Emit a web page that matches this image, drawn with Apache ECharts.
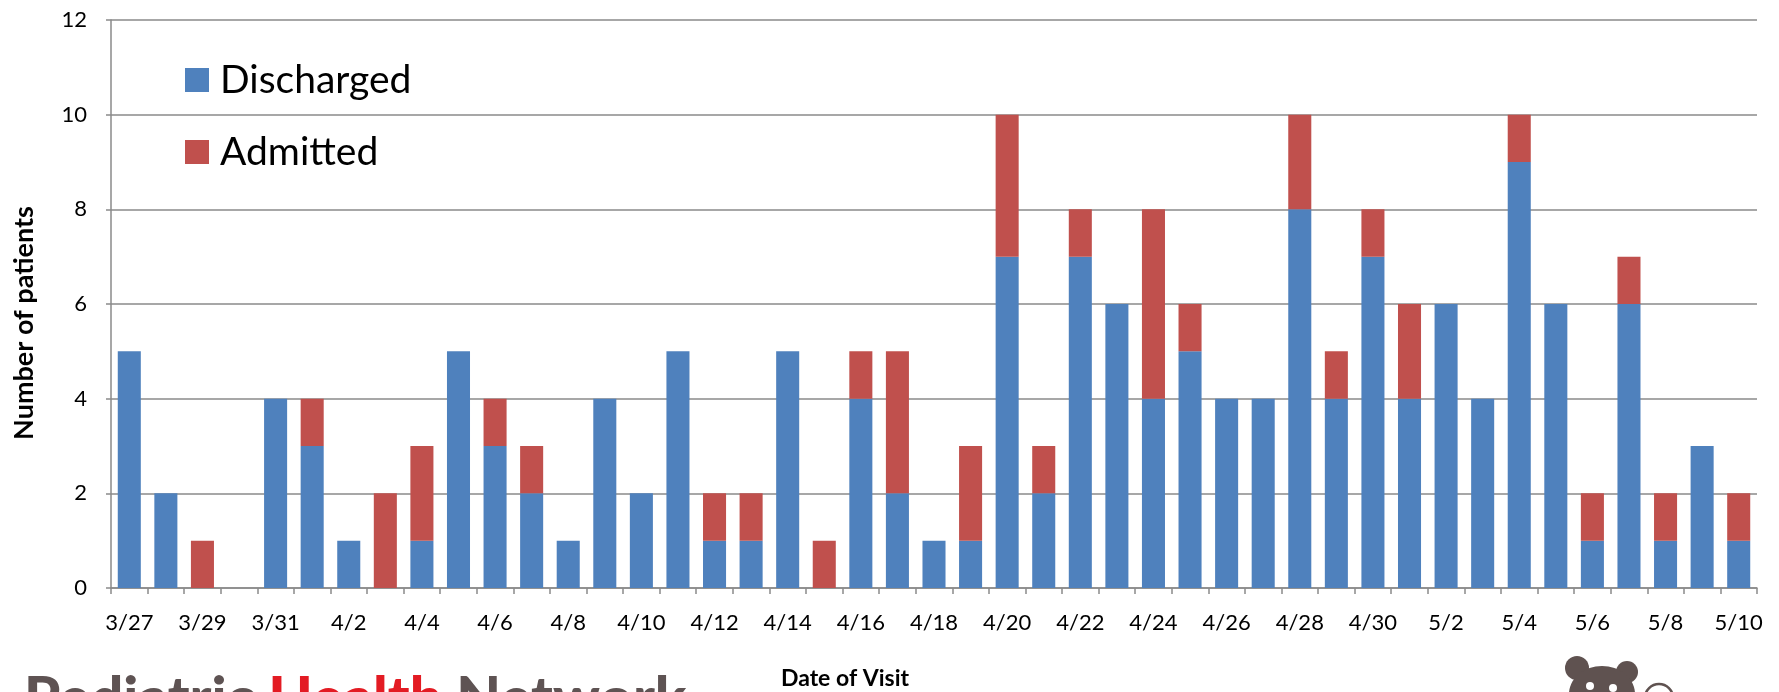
<!DOCTYPE html>
<html>
<head>
<meta charset="utf-8">
<script src="https://cdn.jsdelivr.net/npm/echarts@6/dist/echarts.min.js"></script>
<style>
  html, body { margin: 0; padding: 0; background: #ffffff; }
  #chart { width: 1779px; height: 692px; }
</style>
</head>
<body>
<div id="chart"></div>
<script>
// Daily visits, 3/27 through 5/10
const dates = [
  '3/27','3/28','3/29','3/30','3/31',
  '4/1','4/2','4/3','4/4','4/5','4/6','4/7','4/8','4/9','4/10',
  '4/11','4/12','4/13','4/14','4/15','4/16','4/17','4/18','4/19','4/20',
  '4/21','4/22','4/23','4/24','4/25','4/26','4/27','4/28','4/29','4/30',
  '5/1','5/2','5/3','5/4','5/5','5/6','5/7','5/8','5/9','5/10'
];
const discharged = [
  5, 2, 0, 0, 4,
  3, 1, 0, 1, 5, 3, 2, 1, 4, 2,
  5, 1, 1, 5, 0, 4, 2, 1, 1, 7,
  2, 7, 6, 4, 5, 4, 4, 8, 4, 7,
  4, 6, 4, 9, 6, 1, 6, 1, 3, 1
];
const admitted = [
  0, 0, 1, 0, 0,
  1, 0, 2, 2, 0, 1, 1, 0, 0, 0,
  0, 1, 1, 0, 1, 1, 3, 0, 2, 3,
  1, 1, 0, 4, 1, 0, 0, 2, 1, 1,
  2, 0, 0, 1, 0, 1, 1, 1, 0, 1
];
const seriesNames = ['Discharged', 'Admitted'];
const axisTitles = { y: 'Number of patients', x: 'Date of Visit' };

const FONT = 'Lato, "Open Sans", "Noto Sans", sans-serif';
const GRID_GRAY = '#8a8a8a';
const BEAR = '#5f5250';

const chart = echarts.init(document.getElementById('chart'), null, { renderer: 'canvas' });

chart.setOption({
  animation: false,
  backgroundColor: '#ffffff',
  grid: { left: 111, right: 22, top: 20, bottom: 104, containLabel: false },
  legend: {
    data: seriesNames,
    orient: 'vertical',
    left: 180,
    top: 53,
    icon: 'rect',
    itemWidth: 24,
    itemHeight: 24,
    itemGap: 28,
    textStyle: {
      fontFamily: FONT,
      fontSize: 39,
      lineHeight: 44,
      color: '#000000',
      padding: [0, 0, 0, 6]
    }
  },
  xAxis: {
    type: 'category',
    data: dates,
    boundaryGap: true,
    axisLine: { show: true, lineStyle: { color: GRID_GRAY, width: 1.5 } },
    axisTick: { show: true, interval: 0, length: 6, lineStyle: { color: GRID_GRAY, width: 1.5 } },
    axisLabel: {
      interval: 1,
      margin: 24,
      fontFamily: FONT,
      fontSize: 22,
      color: '#000000'
    },
    splitLine: { show: false }
  },
  yAxis: {
    type: 'value',
    min: 0,
    max: 12,
    interval: 2,
    axisLine: { show: true, lineStyle: { color: GRID_GRAY, width: 1.5 } },
    axisTick: { show: true, length: 5, lineStyle: { color: GRID_GRAY, width: 1.5 } },
    axisLabel: {
      margin: 24,
      fontFamily: FONT,
      fontSize: 22,
      color: '#000000'
    },
    splitLine: { show: true, lineStyle: { color: GRID_GRAY, width: 1.5 } }
  },
  series: [
    {
      name: seriesNames[0],
      type: 'bar',
      stack: 'visits',
      data: discharged,
      barWidth: '63%',
      itemStyle: { color: '#4f81bd' }
    },
    {
      name: seriesNames[1],
      type: 'bar',
      stack: 'visits',
      data: admitted,
      barWidth: '63%',
      itemStyle: { color: '#c0504d' }
    }
  ],
  graphic: [
    {
      type: 'text',
      x: 24,
      y: 323,
      rotation: Math.PI / 2,
      style: {
        text: axisTitles.y,
        fontFamily: FONT,
        fontWeight: 'bold',
        fontSize: 27,
        fill: '#000000',
        align: 'center',
        verticalAlign: 'middle'
      }
    },
    {
      type: 'text',
      x: 845,
      y: 679,
      style: {
        text: axisTitles.x,
        fontFamily: FONT,
        fontWeight: 'bold',
        fontSize: 23,
        fill: '#000000',
        align: 'center',
        verticalAlign: 'middle'
      }
    },
    // organisation wordmark along the bottom edge
    {
      type: 'text',
      x: 24,
      y: 699,
      style: {
        text: '{g|Pediatric} {r|Health} {g|Network}',
        fontFamily: FONT,
        fontWeight: 900,
        fontSize: 58,
        align: 'left',
        verticalAlign: 'middle',
        rich: {
          g: { fill: '#5e5353', fontFamily: FONT, fontWeight: 900, fontSize: 58 },
          r: { fill: '#e31b23', fontFamily: FONT, fontWeight: 900, fontSize: 58 }
        }
      }
    },
    // bear mascot in the bottom-right corner
    {
      type: 'group',
      children: [
        { type: 'circle', shape: { cx: 1577, cy: 668, r: 12 }, style: { fill: BEAR } },
        { type: 'circle', shape: { cx: 1627, cy: 672, r: 11 }, style: { fill: BEAR } },
        { type: 'ellipse', shape: { cx: 1602, cy: 694, rx: 33, ry: 28 }, style: { fill: BEAR } },
        { type: 'circle', shape: { cx: 1590, cy: 686, r: 4 }, style: { fill: '#ffffff' } },
        { type: 'circle', shape: { cx: 1613, cy: 688, r: 4 }, style: { fill: '#ffffff' } },
        { type: 'circle', shape: { cx: 1659, cy: 698, r: 14 }, style: { fill: 'none', stroke: BEAR, lineWidth: 2.5 } }
      ]
    }
  ]
});
</script>
</body>
</html>
